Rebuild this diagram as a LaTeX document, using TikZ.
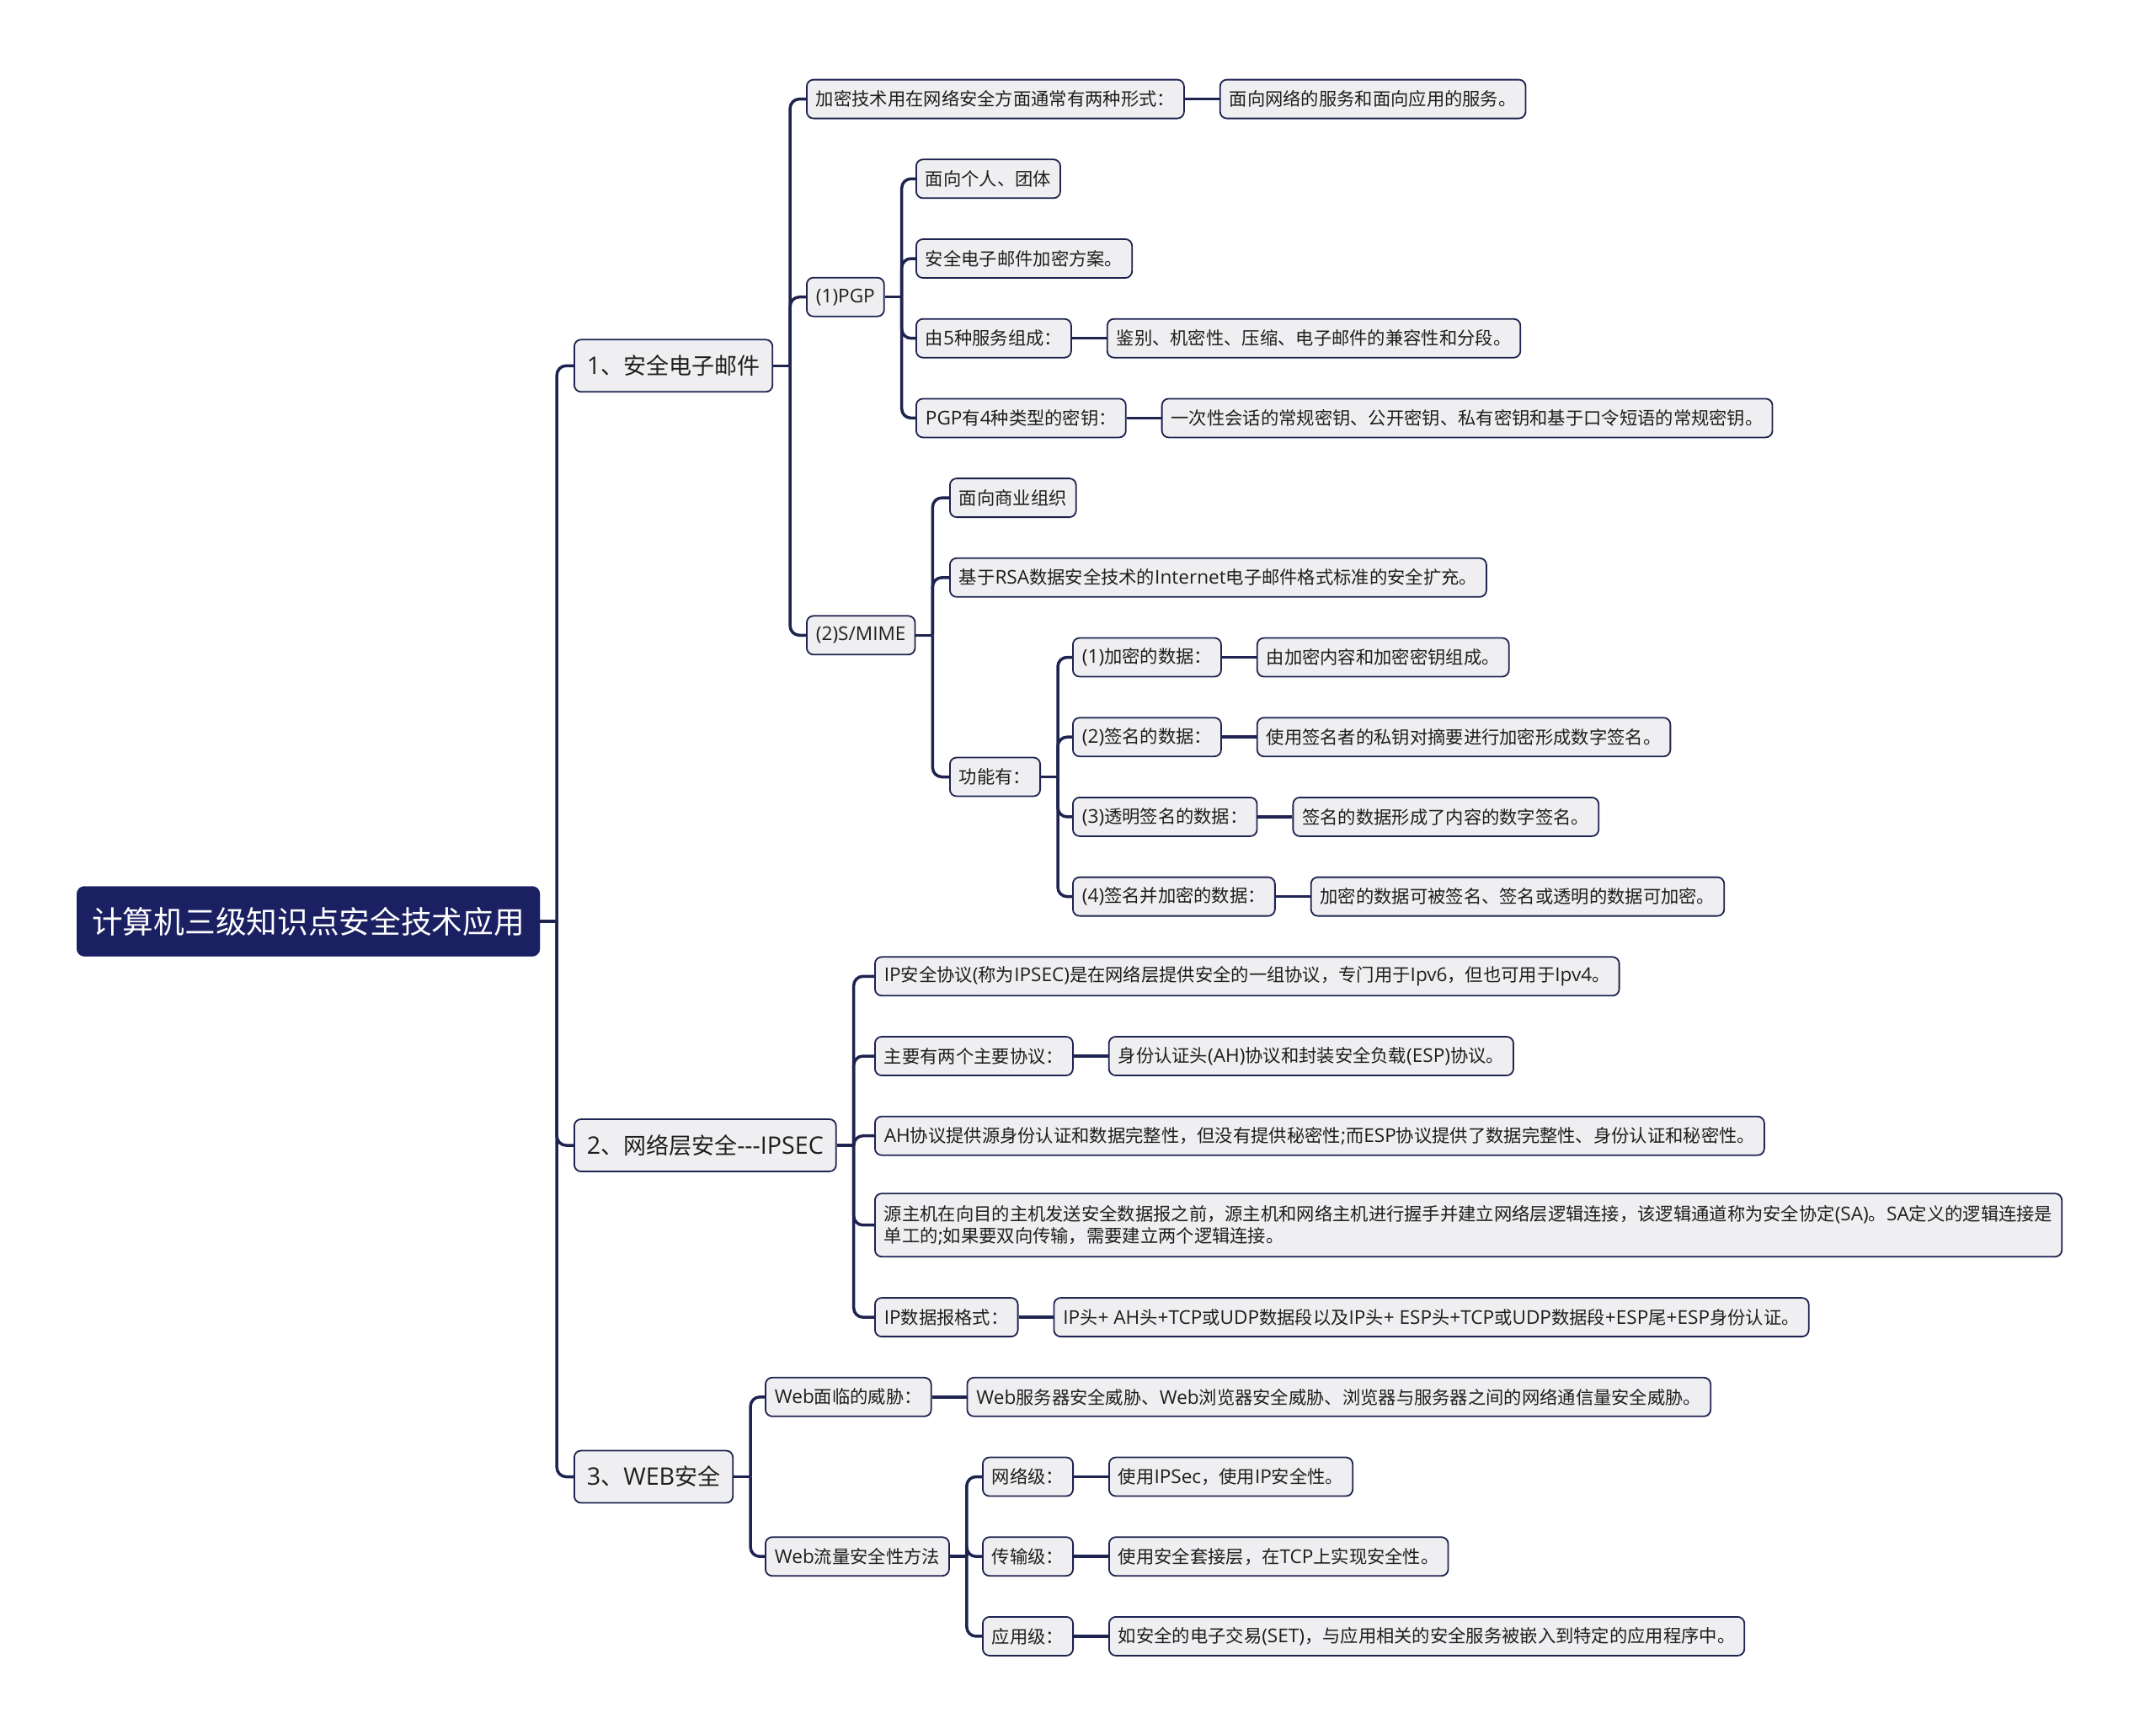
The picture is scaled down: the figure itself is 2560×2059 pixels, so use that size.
\documentclass[tikz,border=0pt]{standalone}
\usepackage{fontspec}
\setmainfont{Open Sans}[Scale=1.06]
\newfontfamily\cjkfont{Noto Sans CJK SC}
\XeTeXinterchartokenstate=1
\newXeTeXintercharclass\CJKcls
\count255="2E80
\loop\XeTeXcharclass\count255=\CJKcls\ifnum\count255<"9FFF\advance\count255 by 1\repeat
\count255="FF00
\loop\XeTeXcharclass\count255=\CJKcls\ifnum\count255<"FFEF\advance\count255 by 1\repeat
\XeTeXinterchartoks 0 \CJKcls = {\begingroup\cjkfont}
\XeTeXinterchartoks 4095 \CJKcls = {\begingroup\cjkfont}
\XeTeXinterchartoks \CJKcls 0 = {\endgroup}
\XeTeXinterchartoks \CJKcls 4095 = {\endgroup}
\usetikzlibrary{positioning}
\definecolor{navy}{HTML}{1B2062}
\definecolor{edgec}{HTML}{1E2350}
\definecolor{boxfill}{HTML}{EFEFF1}
\definecolor{txt}{HTML}{1E1E1E}
\tikzset{
  basebox/.style={draw=edgec, line width=1.8pt, fill=boxfill, rounded corners=8pt, anchor=west, text=txt},
  small/.style={basebox, font=\fontsize{21.3}{26}\selectfont, minimum height=46pt, inner xsep=11pt, inner ysep=0pt},
  lvlone/.style={basebox, font=\fontsize{27}{32}\selectfont, minimum height=62pt, inner xsep=15pt, inner ysep=0pt},
  rootbox/.style={draw=navy, fill=navy, rounded corners=9pt, anchor=west, text=white, font=\fontsize{36.7}{40}\selectfont, minimum height=83pt, inner xsep=18pt, inner ysep=0pt},
  conn/.style={draw=edgec, line width=3.5pt, rounded corners=11pt},
}
\newcommand\mybranch[2]{%
  \draw[conn] (#1.east) -- ++(20pt,0) coordinate (#1-s);
  \foreach \c in {#2} {\draw[conn] (#1-s) |- (\c.west);}
}
\newcommand\myleaf[2]{\draw[conn] (#1.east) -- (#2.west);}
\begin{document}
\begin{tikzpicture}[x=1pt,y=-1pt]
\useasboundingbox (0,0) rectangle (2560,2059);
\node[rootbox] (root) at (91,1094) {计算机三级知识点安全技术应用};
\node[lvlone] (b1) at (681,434.3) {1、安全电子邮件};
\node[lvlone] (b2) at (681,1360) {2、网络层安全-{}-{}-IPSEC};
\node[lvlone] (b3) at (681,1753.5) {3、WEB安全};
% branch 1
\node[small] (a1) at (957,117.6) {加密技术用在网络安全方面通常有两种形式：};
\node[small, right=41pt of a1] (a1x) {面向网络的服务和面向应用的服务。};
\node[small] (pgp) at (957,352.7) {(1)PGP};
\node[small] (p1) at (1087,212.3) {面向个人、团体};
\node[small] (p2) at (1087,307) {安全电子邮件加密方案。};
\node[small] (p3) at (1087,401.7) {由5种服务组成：};
\node[small, right=41pt of p3] (p3x) {鉴别、机密性、压缩、电子邮件的兼容性和分段。};
\node[small] (p4) at (1087,496.4) {PGP有4种类型的密钥：};
\node[small, right=41pt of p4] (p4x) {一次性会话的常规密钥、公开密钥、私有密钥和基于口令短语的常规密钥。};
\node[small] (sm) at (957,754.3) {(2)S/MIME};
\node[small] (s1) at (1127,591.1) {面向商业组织};
\node[small] (s2) at (1127,685.8) {基于RSA数据安全技术的Internet电子邮件格式标准的安全扩充。};
\node[small] (s3) at (1127,922.5) {功能有：};
\node[small] (f1) at (1273,780.5) {(1)加密的数据：};
\node[small, right=41pt of f1] (f1x) {由加密内容和加密密钥组成。};
\node[small] (f2) at (1273,875.2) {(2)签名的数据：};
\node[small, right=41pt of f2] (f2x) {使用签名者的私钥对摘要进行加密形成数字签名。};
\node[small] (f3) at (1273,969.9) {(3)透明签名的数据：};
\node[small, right=41pt of f3] (f3x) {签名的数据形成了内容的数字签名。};
\node[small] (f4) at (1273,1064.6) {(4)签名并加密的数据：};
\node[small, right=41pt of f4] (f4x) {加密的数据可被签名、签名或透明的数据可加密。};
% branch 2
\node[small] (i1) at (1038,1159.3) {IP安全协议(称为IPSEC)是在网络层提供安全的一组协议，专门用于Ipv6，但也可用于Ipv4。};
\node[small] (i2) at (1038,1254) {主要有两个主要协议：};
\node[small, right=41pt of i2] (i2x) {身份认证头(AH)协议和封装安全负载(ESP)协议。};
\node[small] (i3) at (1038,1348.7) {AH协议提供源身份认证和数据完整性，但没有提供秘密性;而ESP协议提供了数据完整性、身份认证和秘密性。};
\node[small, align=left, minimum height=75pt] (i4) at (1038,1454.7) {源主机在向目的主机发送安全数据报之前，源主机和网络主机进行握手并建立网络层逻辑连接，该逻辑通道称为安全协定(SA)。SA定义的逻辑连接是\\单工的;如果要双向传输，需要建立两个逻辑连接。};
\node[small] (i5) at (1038,1564.1) {IP数据报格式：};
\node[small, right=41pt of i5] (i5x) {IP头+ AH头+TCP或UDP数据段以及IP头+ ESP头+TCP或UDP数据段+ESP尾+ESP身份认证。};
% branch 3
\node[small] (w1) at (908,1658.8) {Web面临的威胁：};
\node[small, right=41pt of w1] (w1x) {Web服务器安全威胁、Web浏览器安全威胁、浏览器与服务器之间的网络通信量安全威胁。};
\node[small] (w2) at (908,1848.2) {Web流量安全性方法};
\node[small] (n1) at (1166,1753.5) {网络级：};
\node[small, right=41pt of n1] (n1x) {使用IPSec，使用IP安全性。};
\node[small] (n2) at (1166,1848.2) {传输级：};
\node[small, right=41pt of n2] (n2x) {使用安全套接层，在TCP上实现安全性。};
\node[small] (n3) at (1166,1942.9) {应用级：};
\node[small, right=41pt of n3] (n3x) {如安全的电子交易(SET)，与应用相关的安全服务被嵌入到特定的应用程序中。};
% connectors
\mybranch{root}{b1,b2,b3}
\mybranch{b1}{a1,pgp,sm}
\mybranch{pgp}{p1,p2,p3,p4}
\mybranch{sm}{s1,s2,s3}
\mybranch{s3}{f1,f2,f3,f4}
\mybranch{b2}{i1,i2,i3,i4,i5}
\mybranch{b3}{w1,w2}
\mybranch{w2}{n1,n2,n3}
\myleaf{a1}{a1x}
\myleaf{p3}{p3x}
\myleaf{p4}{p4x}
\myleaf{f1}{f1x}
\myleaf{f2}{f2x}
\myleaf{f3}{f3x}
\myleaf{f4}{f4x}
\myleaf{i2}{i2x}
\myleaf{i5}{i5x}
\myleaf{w1}{w1x}
\myleaf{n1}{n1x}
\myleaf{n2}{n2x}
\myleaf{n3}{n3x}
\end{tikzpicture}
\end{document}
